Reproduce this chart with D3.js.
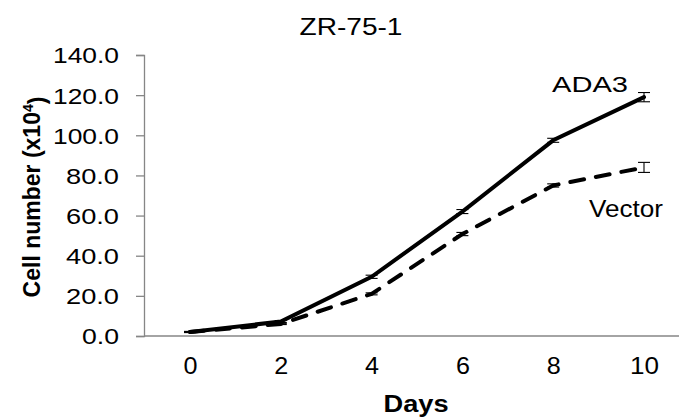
<!DOCTYPE html>
<html>
<head>
<meta charset="utf-8">
<script src="https://cdn.jsdelivr.net/npm/d3@7"></script>
<style>
  html, body { margin: 0; padding: 0; background: #fff; }
  svg { display: block; font-family: "Liberation Sans", Arial, sans-serif; }
</style>
</head>
<body>
<svg id="chart" width="679" height="418"></svg>
<script>
// ---- data ----
const days = [0, 2, 4, 6, 8, 10];
const ada3 = [2.0, 7.2, 29.5, 62.0, 97.5, 119.0];
const ada3Err = [0.3, 0.5, 0.8, 1.0, 1.0, 2.3];
const vector = [2.0, 6.0, 21.0, 50.8, 75.0, 84.0];
const vectorErr = [0.2, 0.3, 0.5, 0.8, 0.8, 2.5];
const yTicks = [0, 20, 40, 60, 80, 100, 120, 140];
const title = "ZR-75-1";
const xTitle = "Days";
const yTitle = "Cell number (x10";
const seriesNames = ["ADA3", "Vector"];

// ---- layout ----
const svg = d3.select("#chart");
const x = d3.scaleLinear().domain([0, 10]).range([190, 644]);
const y = d3.scaleLinear().domain([0, 140]).range([336, 55]);
const axisColor = "#868686";

// y axis
const yAxis = d3.axisLeft(y).tickValues(yTicks).tickFormat(d3.format(".1f")).tickSize(8).tickPadding(17);
const gy = svg.append("g").attr("transform", "translate(144,0)").call(yAxis);
gy.select(".domain").attr("stroke", axisColor).attr("stroke-width", 1.3);
gy.selectAll(".tick line").attr("stroke", axisColor).attr("stroke-width", 1.3);
gy.selectAll(".tick text")
  .attr("fill", "#000")
  .style("font-size", "22px")
  .attr("dy", "0.36em")
  .each(function(d){
    const w = d >= 100 ? 66 : (d >= 10 ? 53 : 37);
    d3.select(this).attr("textLength", w).attr("lengthAdjust", "spacingAndGlyphs");
  });

// x axis (category style: no ticks, line clipped at right edge)
const xAxis = d3.axisBottom(x).tickValues(days).tickFormat(d3.format("d")).tickSize(0).tickPadding(22);
const gx = svg.append("g").attr("transform", "translate(0,336)").call(xAxis);
gx.select(".domain").remove();
gx.append("line").attr("x1", 144).attr("x2", 679).attr("y1", 0).attr("y2", 0)
  .attr("stroke", axisColor).attr("stroke-width", 1.3);
gx.selectAll(".tick text").attr("fill", "#000").style("font-size", "23px")
  .each(function(d){ d3.select(this).attr("textLength", d >= 10 ? 29 : 14).attr("lengthAdjust", "spacingAndGlyphs"); });

// lines
const line = d3.line().x((d, i) => x(days[i])).y(d => y(d));
svg.append("path").datum(vector).attr("d", line)
  .attr("fill", "none").attr("stroke", "#000").attr("stroke-width", 4)
  .attr("stroke-dasharray", "14,12").attr("stroke-linecap", "round");
svg.append("path").datum(ada3).attr("d", line)
  .attr("fill", "none").attr("stroke", "#000").attr("stroke-width", 4)
  .attr("stroke-linecap", "round");

// error bars
function errBars(vals, errs) {
  const g = svg.append("g").attr("stroke", "#000").attr("stroke-width", 1.1);
  vals.forEach((v, i) => {
    const cx = x(days[i]);
    g.append("line").attr("x1", cx).attr("x2", cx).attr("y1", y(v + errs[i])).attr("y2", y(v - errs[i]));
    g.append("line").attr("x1", cx - 6).attr("x2", cx + 6).attr("y1", y(v + errs[i])).attr("y2", y(v + errs[i]));
    g.append("line").attr("x1", cx - 6).attr("x2", cx + 6).attr("y1", y(v - errs[i])).attr("y2", y(v - errs[i]));
  });
}
errBars(ada3, ada3Err);
errBars(vector, vectorErr);

// titles
svg.append("text").attr("x", 351).attr("y", 35).attr("text-anchor", "middle")
  .style("font-size", "23px").attr("textLength", 103).attr("lengthAdjust", "spacingAndGlyphs").text(title);
svg.append("text").attr("x", 416).attr("y", 412).attr("text-anchor", "middle")
  .style("font-size", "23px").style("font-weight", "bold")
  .attr("textLength", 65).attr("lengthAdjust", "spacingAndGlyphs").text(xTitle);
const yt = svg.append("text").attr("transform", "translate(40,197) rotate(-90)").attr("text-anchor", "middle")
  .style("font-size", "23px").style("font-weight", "bold");
yt.append("tspan").text(yTitle);
yt.append("tspan").attr("dy", "-0.5em").style("font-size", "14px").text("4");
yt.append("tspan").attr("dy", "0.5em").text(")");

// series labels
svg.append("text").attr("x", 552).attr("y", 92).style("font-size", "22px")
  .attr("textLength", 76).attr("lengthAdjust", "spacingAndGlyphs").text(seriesNames[0]);
svg.append("text").attr("x", 589).attr("y", 217).style("font-size", "23px")
  .attr("textLength", 74).attr("lengthAdjust", "spacingAndGlyphs").text(seriesNames[1]);
</script>
</body>
</html>
